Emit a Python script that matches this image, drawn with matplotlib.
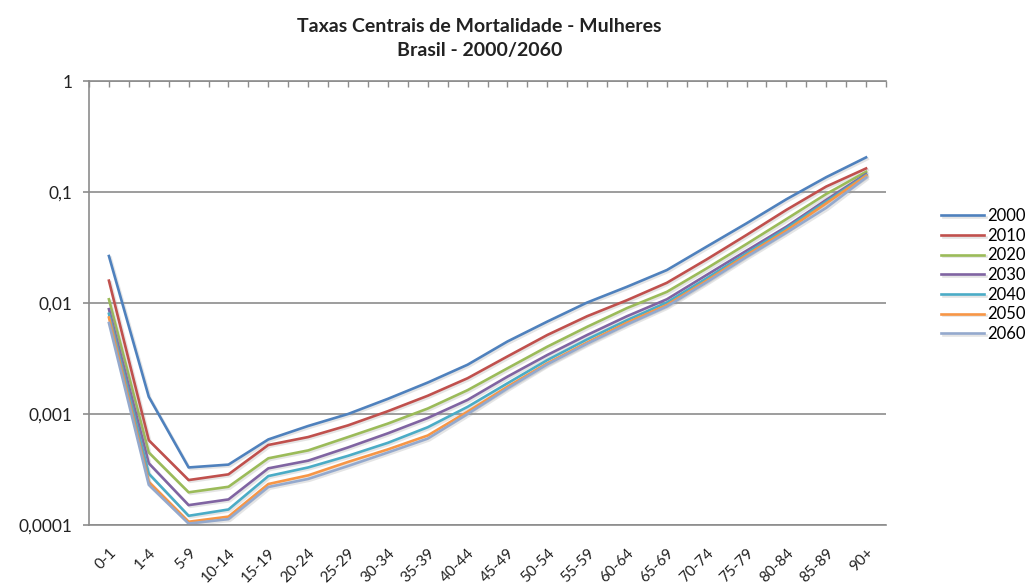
import matplotlib
matplotlib.use('Agg')
import matplotlib.pyplot as plt
import matplotlib.patheffects as pe
from matplotlib.ticker import FixedLocator, MultipleLocator, NullLocator

plt.rcParams['font.family'] = ['Lato', 'DejaVu Sans']

ages = ['0-1', '1-4', '5-9', '10-14', '15-19', '20-24', '25-29', '30-34', '35-39', '40-44',
        '45-49', '50-54', '55-59', '60-64', '65-69', '70-74', '75-79', '80-84', '85-89', '90+']
years = ['2000', '2010', '2020', '2030', '2040', '2050', '2060']

m2000 = [0.0265, 0.00143, 0.00033, 0.00035, 0.00059, 0.00078, 0.00100, 0.00137, 0.00192, 0.00278,
         0.0045, 0.0068, 0.0101, 0.0140, 0.0198, 0.0322, 0.0522, 0.086, 0.136, 0.205]
m2010 = [0.0159, 0.00058, 0.000254, 0.000286, 0.000526, 0.00062, 0.00079, 0.00106, 0.00146, 0.0021,
         0.0033, 0.00515, 0.0076, 0.0106, 0.0152, 0.0247, 0.041, 0.069, 0.112, 0.163]
m2020 = [0.0108, 0.00045, 0.000197, 0.000221, 0.000399, 0.00047, 0.00062, 0.00082, 0.00112, 0.00164,
         0.00258, 0.00404, 0.0061, 0.0090, 0.0126, 0.0205, 0.034, 0.057, 0.096, 0.152]
m2030 = [0.0088, 0.00036, 0.000151, 0.000170, 0.000324, 0.00038, 0.00050, 0.00067, 0.00092, 0.00134,
         0.00217, 0.0034, 0.00515, 0.0076, 0.0108, 0.0179, 0.0296, 0.0487, 0.085, 0.145]
m2040 = [0.0080, 0.00029, 0.000121, 0.000138, 0.000276, 0.00033, 0.00042, 0.00055, 0.00076, 0.00116,
         0.00189, 0.00306, 0.0047, 0.0070, 0.0101, 0.0167, 0.028, 0.047, 0.082, 0.142]
m2050 = [0.0074, 0.000245, 0.000107, 0.000119, 0.000234, 0.00028, 0.00037, 0.00048, 0.00064, 0.00105,
         0.00176, 0.00286, 0.0044, 0.00665, 0.0096, 0.0159, 0.027, 0.045, 0.079, 0.140]
m2060 = [0.0066, 0.00023, 0.000103, 0.000113, 0.00022, 0.00026, 0.00034, 0.00045, 0.00060, 0.00100,
         0.0017, 0.0028, 0.0043, 0.0064, 0.0093, 0.0154, 0.026, 0.043, 0.072, 0.135]
series = [m2000, m2010, m2020, m2030, m2040, m2050, m2060]

colors = ['#4F81BD', '#C0504D', '#9BBB59', '#8064A2', '#4BACC6', '#F79646', '#94A9CD']

yticks = [0.0001, 0.001, 0.01, 0.1, 1]
ylabels = ['0,0001', '0,001', '0,01', '0,1', '1']

fig = plt.figure(figsize=(10.36, 5.85), dpi=100)
ax = fig.add_axes([89 / 1036, 1 - 525 / 585, (886 - 89) / 1036, (525 - 81) / 585])

x = list(range(len(ages)))
shadow = [pe.SimpleLineShadow(offset=(1.2, -1.2), shadow_color='#999999', alpha=0.25), pe.Normal()]
for vals, c, lab in zip(series, colors, years):
    ax.plot(x, vals, color=c, lw=1.9, label=lab, path_effects=shadow)

ax.set_yscale('log')
ax.set_ylim(0.0001, 1)
ax.set_xlim(-0.5, len(ages) - 0.5)
ax.yaxis.set_major_locator(FixedLocator(yticks))
ax.yaxis.set_minor_locator(NullLocator())
ax.set_yticklabels(ylabels, fontsize=12.5, color='#222222')
ax.grid(axis='y', color='#8C8C8C', lw=1.2)
ax.set_axisbelow(True)

# category labels, rotated
ax.set_xticks(x)
ax.set_xticklabels(ages, fontsize=11, color='#222222', rotation=45, ha='right',
                   va='top', rotation_mode='anchor')
ax.xaxis.set_minor_locator(MultipleLocator(0.5))
ax.tick_params(axis='x', which='both', bottom=False, top=True, direction='in', length=4,
               color='#8C8C8C', width=1)
ax.tick_params(axis='x', which='major', pad=15)
ax.tick_params(axis='y', which='major', length=4, color='#8C8C8C', width=1.2, pad=8)

for s in ['left', 'top', 'bottom']:
    ax.spines[s].set_color('#8C8C8C')
    ax.spines[s].set_linewidth(1.2)
ax.spines['right'].set_visible(False)

fig.text(0.463, 1 - 38.5 / 585, 'Taxas Centrais de Mortalidade - Mulheres\nBrasil - 2000/2060',
         ha='center', va='center', fontsize=14, fontweight='bold', color='#222222',
         linespacing=1.45)

ax.legend(loc='upper left', bbox_to_anchor=(941 / 1036, 1 - 208 / 585),
          bbox_transform=fig.transFigure, frameon=False, fontsize=12,
          handlelength=2.6, handletextpad=0.2, labelspacing=0.22, borderpad=0, borderaxespad=0)

fig.savefig('out.png', dpi=100)
